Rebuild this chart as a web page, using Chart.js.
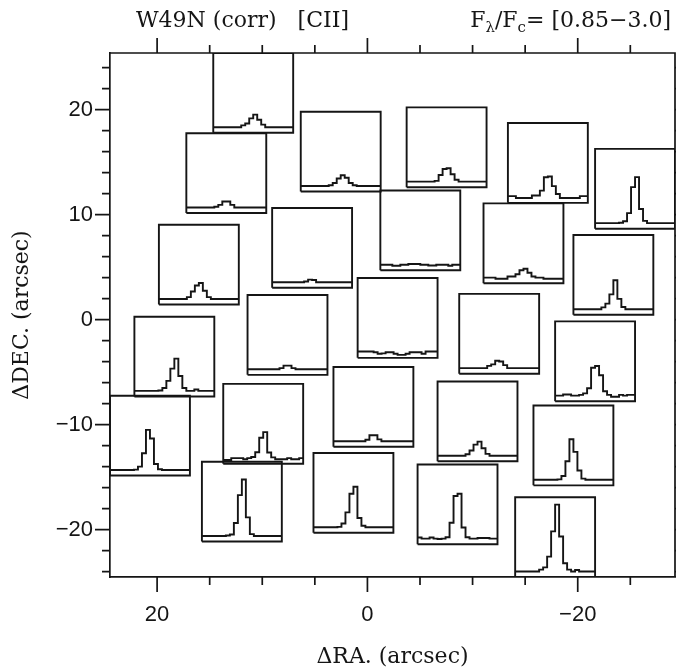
<!DOCTYPE html>
<html>
<head>
<meta charset="utf-8">
<script src="https://cdn.jsdelivr.net/npm/chart.js@4.4.0/dist/chart.umd.min.js"></script>
<style>
  html, body { margin: 0; padding: 0; background: #fff; }
</style>
</head>
<body>
<canvas id="mapChart" width="676" height="668"></canvas>
<script>
// spaxel centres (arcsec offsets)
const spaxelRA  = [10.86, 2.54, -7.53, -17.16, -25.45, 13.42, -5.03, -14.84, 5.26, 16.03, -23.39, -2.87, -12.53, 7.6, -21.65, 18.36, -0.57, -10.47, 20.68, 9.91, -19.59, 1.33, 11.94, -8.57, -17.85];
const spaxelDEC = [21.59, 16.0, 16.41, 14.92, 12.46, 13.95, 8.5, 7.27, 6.83, 5.24, 4.26, 0.16, -1.35, -1.46, -3.97, -3.52, -8.31, -9.69, -11.05, -9.92, -11.98, -16.5, -17.33, -17.59, -20.71];

// [CII] line profiles, F_lambda / F_c per channel (20 channels), same order as above
const spectra = [
  [1,1,1,1,1,1,1,1.05,1.1,1.24,1.34,1.2,1.07,1,1,1,1,1,1,1],
  [1,1,1,1,1,1,1,1.02,1.08,1.2,1.29,1.22,1.08,1.02,1,1,1,1,1,1],
  [1,1,1,1,1,1,1,1.02,1.18,1.34,1.36,1.2,1.05,1,1,1,1,1,1,1],
  [1.03,1.03,0.98,0.98,0.98,0.98,1.05,1.05,1.18,1.54,1.56,1.3,1.09,0.98,0.98,0.98,0.98,0.98,1.03,1.03],
  [1,1,1,1,1,1,1.01,1.05,1.27,1.97,2.24,1.38,1.06,1,1,1,1,1,1,1],
  [1,1,1,1,1,1,1,1.02,1.07,1.16,1.16,1.07,1,1,1,1,1,1,1,1],
  [1,1,1,0.97,0.97,1,1,1.02,1.02,1.02,1,1,0.98,0.98,1,1,1,0.97,1,1],
  [1,1,1,0.97,0.97,0.97,1.03,1.03,1.09,1.2,1.24,1.13,1.03,1,1,0.97,0.97,0.97,0.97,0.97],
  [1,1,1,1,1,1,1,1,1.02,1.07,1.06,1,1,1,1,1,1,1,1,1],
  [1,1,1,1,1,1,1,1.05,1.2,1.36,1.43,1.22,1.05,1,1,1,1,1,1,1],
  [1,1,1,1,1,1,1,1.05,1.15,1.4,1.78,1.28,1.06,1,1,1,1,1,1,1],
  [1.02,1.02,1.02,1.02,1,0.96,0.97,1,1,0.96,0.93,0.93,0.96,1,1,1,0.96,1.02,1.02,1.02],
  [1,1,1,1,1,1,1,1.06,1.1,1.2,1.18,1.08,1,1,1,1,1,1,1,1],
  [1,1,1,1,1,1,1,1,1.03,1.1,1.1,1.03,1,1,1,1,1,1,1,1],
  [1,1,1.03,1.03,1,1,1.02,1.06,1.2,1.75,1.8,1.55,1.12,1.02,0.97,0.97,1.02,1,1.02,1.02],
  [1,1,1,1,1,1,1.01,1.08,1.27,1.6,1.87,1.4,1.08,1,1,1.04,1,1,1,1],
  [1,1,1,1,1,1,1,1,1.04,1.16,1.16,1.05,1,1,1,1,1,1,1,1],
  [1,1,1,1,1,1,1,1.04,1.14,1.3,1.38,1.2,1.05,1,1,1,1,1,1,1],
  [1,1,1,1,1,1,1.01,1.09,1.45,2.08,1.85,1.16,1.02,1,1,1,1,1,1,1],
  [0.95,0.95,1,1,1,0.97,1,1.03,1.16,1.55,1.7,1.15,1.02,0.97,0.97,0.97,1,0.97,0.97,1],
  [1,1,1,1,1,1,1.01,1.1,1.5,2.09,1.75,1.25,1.03,1,1,1,1,1,1,1],
  [1,1,1,1,1,1,1.01,1.1,1.4,1.9,2.09,1.25,1.04,1,1,1,1,1,1,1],
  [1,1,1,1,1,1,1.01,1.04,1.35,2.1,2.52,1.5,1.05,1,1,1,1,1,1,1],
  [1.03,1,1,1.03,1,0.99,1,1.04,1.43,2.15,2.21,1.3,1.04,1,1,1.02,1.02,1.02,1,1],
  [1,1,1,1,1,1,1.05,1.11,1.4,2.08,2.8,1.94,1.22,1.05,1,1.04,1,1,1,1]
];

const fluxRange = [0.85, 3.0];
const raTickLabels = [20, 0, -20];
const decTickLabels = [20, 10, 0, -10, -20];

const BOX = 7.6;       // size of each spectrum box (arcsec)
const INK = '#151515';

const half = BOX / 2;
const raMin = Math.min(...spaxelRA) - half;
const raMax = Math.max(...spaxelRA) + half;
const decMin = Math.min(...spaxelDEC) - half;
const decMax = Math.max(...spaxelDEC) + half;

function minus(v) {
    return v < 0 ? '\u2212' + Math.abs(v) : String(v);
}

// un carré + un spectre en escalier par spaxel
const datasets = [];
spaxelRA.forEach((ra, i) => {
    const dec = spaxelDEC[i];
    datasets.push({
        data: [
            {x: ra + half, y: dec - half}, {x: ra - half, y: dec - half},
            {x: ra - half, y: dec + half}, {x: ra + half, y: dec + half},
            {x: ra + half, y: dec - half}
        ],
        showLine: true, borderColor: INK, borderWidth: 1.9, pointRadius: 0
    });
    const flux = spectra[i];
    const cw = BOX / flux.length;
    const toY = f => dec - half + (f - fluxRange[0]) / (fluxRange[1] - fluxRange[0]) * BOX;
    const pts = flux.map((f, k) => ({x: ra + half - k * cw, y: toY(f)}));
    pts.push({x: ra - half, y: toY(flux[flux.length - 1])});
    datasets.push({
        data: pts,
        showLine: true, stepped: 'before', borderColor: INK, borderWidth: 1.9, pointRadius: 0
    });
});

// cadre haut/droite, graduations sur les 4 côtés, en-tête
const frameTicks = {
    id: 'frameTicks',
    afterDraw(chart) {
        const {ctx, chartArea: a, scales: {x, y}} = chart;
        ctx.save();
        ctx.strokeStyle = INK;
        ctx.lineWidth = 1.7;
        ctx.beginPath();
        ctx.moveTo(a.left, a.top); ctx.lineTo(a.right, a.top); ctx.lineTo(a.right, a.bottom);
        for (let v = -25; v <= 25; v += 5) {
            if (v < raMin || v > raMax) continue;
            const px = x.getPixelForValue(v);
            const len = v % 20 === 0 ? 15 : 8;
            ctx.moveTo(px, a.top); ctx.lineTo(px, a.top - len);
            ctx.moveTo(px, a.bottom); ctx.lineTo(px, a.bottom + len);
        }
        for (let v = -24; v <= 24; v += 2) {
            if (v < decMin || v > decMax) continue;
            const py = y.getPixelForValue(v);
            const len = v % 10 === 0 ? 15 : 8;
            ctx.moveTo(a.left, py); ctx.lineTo(a.left - len, py);
            ctx.moveTo(a.right, py); ctx.lineTo(a.right + len, py);
        }
        ctx.stroke();

        ctx.fillStyle = INK;
        ctx.textBaseline = 'alphabetic';
        ctx.textAlign = 'left';
        ctx.font = '22px "DejaVu Serif"';
        ctx.fillText('W49N (corr)   [CII]', 136, 27);

        const parts = [
            ['F', 22, 0], ['\u03bb', 15, 5], ['/F', 22, 0], ['c', 15, 5],
            ['= [0.85\u22123.0]', 22, 0]
        ];
        let total = 0;
        parts.forEach(p => { ctx.font = p[1] + 'px "DejaVu Serif"'; total += ctx.measureText(p[0]).width; });
        let cx = 671 - total;
        parts.forEach(p => {
            ctx.font = p[1] + 'px "DejaVu Serif"';
            ctx.fillText(p[0], cx, 27 + p[2]);
            cx += ctx.measureText(p[0]).width;
        });
        ctx.restore();
    }
};

new Chart(document.getElementById('mapChart'), {
    type: 'scatter',
    data: {datasets: datasets},
    options: {
        responsive: false,
        animation: false,
        layout: {padding: {top: 53, right: 1, left: 0, bottom: 0}},
        plugins: {legend: {display: false}, tooltip: {enabled: false}},
        scales: {
            x: {
                type: 'linear',
                reverse: true,
                min: raMin,
                max: raMax,
                afterBuildTicks: s => { s.ticks = raTickLabels.map(v => ({value: v})); },
                afterFit: s => { s.height = 91; },
                grid: {display: false},
                border: {display: true, color: INK, width: 1.7},
                ticks: {
                    padding: 17, color: INK, maxRotation: 0, autoSkip: false,
                    font: {family: '"Liberation Sans"', size: 22},
                    callback: v => minus(v)
                },
                title: {
                    display: true, text: '\u0394RA. (arcsec)', color: INK, padding: 0,
                    font: {family: '"DejaVu Serif"', size: 22, lineHeight: 1}
                }
            },
            y: {
                type: 'linear',
                min: decMin,
                max: decMax,
                afterBuildTicks: s => { s.ticks = decTickLabels.map(v => ({value: v})); },
                afterFit: s => { s.width = 110; },
                grid: {display: false},
                border: {display: true, color: INK, width: 1.7},
                ticks: {
                    padding: 9, color: INK, autoSkip: false,
                    font: {family: '"Liberation Sans"', size: 22},
                    callback: v => minus(v)
                },
                title: {
                    display: true, text: '\u0394DEC. (arcsec)', color: INK,
                    padding: {top: 11, bottom: 0},
                    font: {family: '"DejaVu Serif"', size: 22, lineHeight: 1}
                }
            }
        }
    },
    plugins: [frameTicks]
});
</script>
</body>
</html>
